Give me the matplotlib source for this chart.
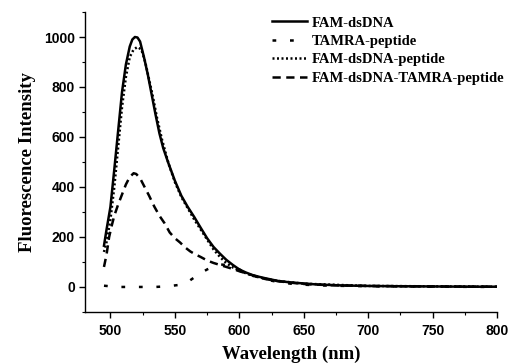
import matplotlib
matplotlib.use("Agg")
import matplotlib.pyplot as plt
from matplotlib.ticker import MultipleLocator

# FAM-dsDNA (solid)
wl_fam = [495, 497, 500, 503, 506, 509, 512, 515, 517, 519, 521, 523, 526, 529, 532, 535, 538,
          541, 545, 550, 555, 560, 565, 570, 575, 580, 585, 590, 595, 600, 605, 610, 615, 620,
          630, 640, 650, 660, 680, 700, 720, 750, 780, 800]
fam = [165, 230, 320, 470, 625, 780, 890, 962, 990, 1000, 998, 982, 920, 850, 770, 690, 615,
       555, 495, 425, 365, 320, 280, 237, 195, 160, 133, 108, 88, 70, 58, 48, 41, 35,
       24, 18, 14, 10, 6, 4, 3, 2, 1, 1]

# TAMRA-peptide (loose dots)
wl_tamra = [495, 505, 515, 525, 535, 545, 553, 560, 565, 570, 575, 580, 585, 590, 595, 600,
            605, 610, 615, 620, 630, 640, 650, 670, 700, 750, 800]
tamra = [5, 0, 0, 0, 0, 3, 8, 20, 38, 55, 70, 82, 90, 88, 80, 70,
         58, 48, 38, 30, 20, 13, 9, 5, 3, 1, 0]

# FAM-dsDNA-peptide (dotted)
wl_famp = [495, 497, 500, 503, 506, 509, 512, 515, 518, 521, 524, 527, 530, 533, 536, 540,
           545, 550, 555, 560, 565, 570, 575, 580, 585, 590, 595, 600, 605, 610, 620, 630,
           650, 700, 800]
famp = [140, 180, 270, 400, 560, 720, 840, 920, 950, 960, 950, 900, 830, 760, 680, 590,
        495, 420, 360, 315, 270, 230, 190, 150, 120, 95, 78, 65, 55, 45, 33, 24,
        13, 4, 1]

# FAM-dsDNA-TAMRA-peptide (dashed)
wl_fret = [495, 497, 499, 501, 503, 506, 509, 512, 515, 518, 520, 523, 526, 530, 534, 538,
           542, 546, 550, 554, 558, 562, 566, 570, 575, 580, 585, 590, 595, 600, 605, 610,
           615, 620, 630, 640, 650, 670, 700, 750, 800]
fret = [80, 130, 200, 245, 285, 330, 370, 410, 440, 455, 452, 435, 405, 365, 322, 285,
        255, 218, 195, 178, 158, 142, 130, 120, 106, 96, 88, 80, 72, 63, 55, 47,
        38, 32, 23, 17, 12, 7, 4, 2, 1]

labels = ["FAM-dsDNA", "TAMRA-peptide", "FAM-dsDNA-peptide", "FAM-dsDNA-TAMRA-peptide"]

fig = plt.figure(figsize=(5.13, 3.64), dpi=100)
ax = fig.add_axes([0.165, 0.143, 0.804, 0.824])

lw = 1.8
ax.plot(wl_fam, fam, color="black", lw=lw, ls="-", label=labels[0])
ax.plot(wl_tamra, tamra, color="black", lw=lw, ls=(0, (1.5, 5.5)), label=labels[1])
ax.plot(wl_famp, famp, color="black", lw=lw, ls=(0, (0.8, 1.0)), label=labels[2])
ax.plot(wl_fret, fret, color="black", lw=lw, ls=(0, (3.3, 2.2)), label=labels[3])

ax.set_xlim(480, 800)
ax.set_ylim(-100, 1100)
ax.xaxis.set_major_locator(MultipleLocator(50))
ax.xaxis.set_minor_locator(MultipleLocator(25))
ax.yaxis.set_major_locator(MultipleLocator(200))
ax.yaxis.set_minor_locator(MultipleLocator(100))
ax.set_xticks([500, 550, 600, 650, 700, 750, 800])
ax.set_yticks([0, 200, 400, 600, 800, 1000])

for s in ["top", "right"]:
    ax.spines[s].set_visible(False)
for s in ["left", "bottom"]:
    ax.spines[s].set_linewidth(1.0)

ax.tick_params(which="major", direction="out", length=4, width=1.0)
ax.tick_params(axis="x", which="major", pad=5)
ax.tick_params(axis="y", which="major", pad=3)
ax.tick_params(which="minor", direction="out", length=2.5, width=0.8)
for t in ax.get_xticklabels() + ax.get_yticklabels():
    t.set_fontfamily("Liberation Sans")
    t.set_fontweight("bold")
    t.set_fontsize(10)

ax.set_xlabel("Wavelength (nm)", fontfamily="Liberation Serif", fontweight="bold",
              fontsize=13.5, labelpad=5)
ax.set_ylabel("Fluorescence Intensity", fontfamily="Liberation Serif", fontweight="bold",
              fontsize=13.5, labelpad=6)

leg = ax.legend(loc="upper left", bbox_to_anchor=(0.44, 1.005), frameon=False,
                prop={"family": "Liberation Serif", "weight": "bold", "size": 10.5},
                handlelength=2.4, handletextpad=0.3, labelspacing=0.36, borderaxespad=0)

fig.savefig("out.png", dpi=100)
